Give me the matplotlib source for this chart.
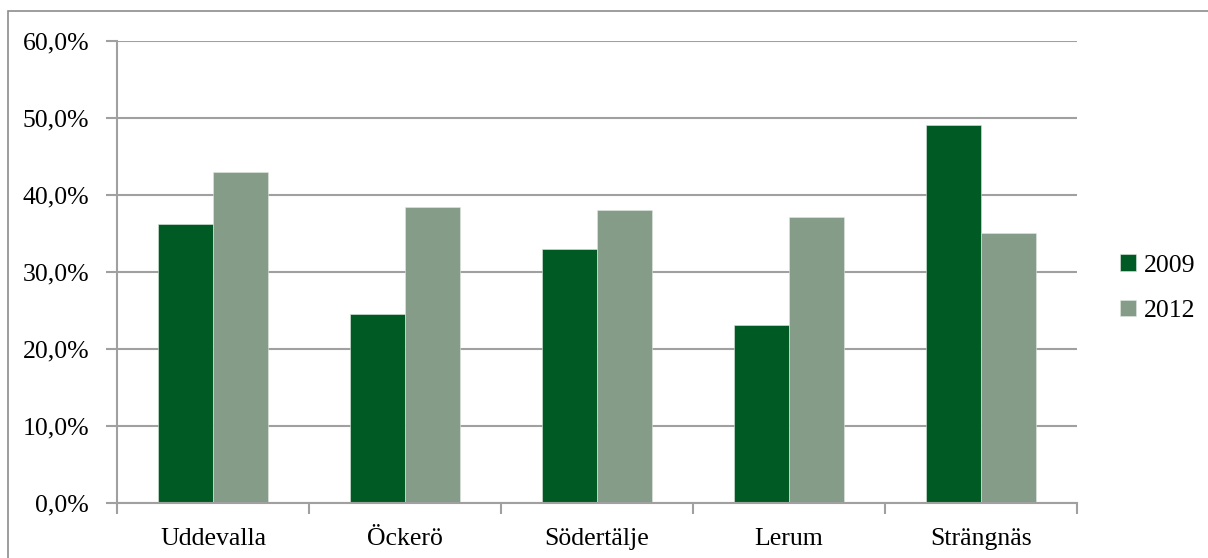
import numpy as np
import matplotlib.pyplot as plt
from matplotlib.patches import Rectangle

plt.rcParams['font.family'] = ['Liberation Serif', 'DejaVu Serif']

kommuner = ['Uddevalla', 'Öckerö', 'Södertälje', 'Lerum', 'Strängnäs']
v2009 = [36.2, 24.5, 33.0, 23.1, 49.1]
v2012 = [43.0, 38.4, 38.1, 37.1, 35.1]
yticks = [0, 10, 20, 30, 40, 50, 60]

c2009 = '#005a24'
c2012 = '#859c88'
grid = '#a0a0a0'

fig = plt.figure(figsize=(12.08, 5.58), dpi=100)
ax = fig.add_axes([117/1208, 1-503/558, 960/1208, 462/558])

# ram runt hela diagrammet
fig.patches.append(Rectangle((8/1208, -0.05), 1.2, 1-11/558+0.05, transform=fig.transFigure,
                             fill=False, edgecolor='#8c8c8c', linewidth=1.2))

x = np.arange(len(kommuner))
w = 0.286
ax.bar(x - w/2, v2009, w, color=c2009, edgecolor='#e0e8e0', linewidth=0.4, label='2009', zorder=3)
ax.bar(x + w/2, v2012, w, color=c2012, edgecolor='#e0e8e0', linewidth=0.4, label='2012', zorder=3)

ax.set_xlim(-0.5, len(kommuner) - 0.5)
ax.set_ylim(0, 60)
ax.set_yticks(yticks)
ax.set_yticklabels([('%.1f' % t).replace('.', ',') + '%' for t in yticks], fontsize=18.5)
ax.set_xticks(x)
ax.set_xticklabels(kommuner, fontsize=18.5)
ax.tick_params(axis='x', length=0, pad=18)
ax.set_xticks(np.arange(len(kommuner) + 1) - 0.5, minor=True)
ax.tick_params(axis='x', which='minor', length=8, width=1.5, color=grid)
ax.tick_params(axis='y', length=8, width=1.5, color=grid, pad=12)

ax.grid(axis='y', color=grid, linewidth=1.5, zorder=0)
for s in ['top', 'right']:
    ax.spines[s].set_visible(False)
for s in ['left', 'bottom']:
    ax.spines[s].set_color(grid)
    ax.spines[s].set_linewidth(1.5)
    ax.spines[s].set_zorder(4)

ax.legend(loc='center left', bbox_to_anchor=(1.021, 0.465), frameon=False, fontsize=18.5,
          handlelength=0.6, handleheight=0.6, handletextpad=0.3, labelspacing=0.9)

fig.savefig('out.png', dpi=100)
